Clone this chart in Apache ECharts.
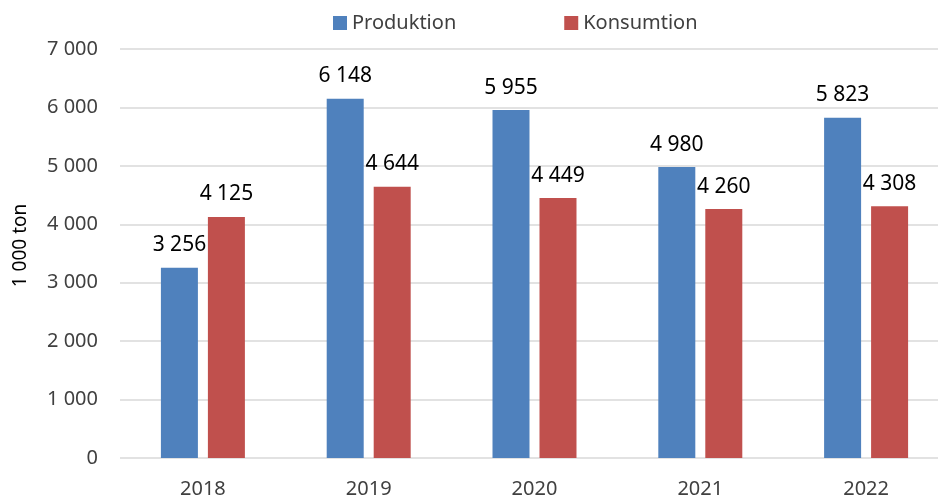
<!DOCTYPE html>
<html>
<head>
<meta charset="utf-8">
<script src="https://cdn.jsdelivr.net/npm/echarts@6/dist/echarts.min.js"></script>
<style>
  html, body { margin: 0; padding: 0; background: #fff; }
  #main { width: 938px; height: 500px; }
</style>
</head>
<body>
<div id="main"></div>
<script>
// data
var years = ['2018', '2019', '2020', '2021', '2022'];
var produktion = [3256, 6148, 5955, 4980, 5823];
var konsumtion = [4125, 4644, 4449, 4260, 4308];

var fmt = function (v) {
    return String(v).replace(/\B(?=(\d{3})+(?!\d))/g, ' ');
};

var FONT = 'Noto Sans';

var myChart = echarts.init(document.getElementById('main'));

var labelOpt = {
    show: true,
    position: 'top',
    distance: 12,
    color: '#000',
    fontFamily: FONT,
    fontSize: 21,
    formatter: function (p) { return fmt(p.value); }
};

var option = {
    animation: false,
    legend: {
        left: 328,
        top: 8,
        itemWidth: 14,
        itemHeight: 14,
        itemGap: 108,
        icon: 'rect',
        textStyle: { fontFamily: FONT, fontSize: 20, color: '#404040' },
        data: ['Produktion', 'Konsumtion']
    },
    // plot area runs a little past the right edge, as in the original
    grid: {
        left: 120,
        width: 829,
        top: 49,
        bottom: 42,
        containLabel: false,
        outerBoundsMode: 'none'
    },
    xAxis: {
        type: 'category',
        data: years,
        axisLine: { show: false },
        axisTick: { show: false },
        axisLabel: {
            color: '#404040',
            fontFamily: FONT,
            fontSize: 20,
            margin: 21
        }
    },
    yAxis: {
        type: 'value',
        min: 0,
        max: 7000,
        interval: 1000,
        name: '1 000 ton',
        nameLocation: 'middle',
        nameGap: 90,
        nameTextStyle: {
            fontFamily: FONT,
            fontSize: 19,
            color: '#000',
            padding: [0, 0, 0, 16]
        },
        axisLabel: {
            color: '#404040',
            fontFamily: FONT,
            fontSize: 20,
            margin: 22,
            formatter: function (v) { return fmt(v); }
        },
        splitLine: { lineStyle: { color: '#d9d9d9', width: 1.5 } }
    },
    series: [
        {
            name: 'Produktion',
            type: 'bar',
            data: produktion,
            barWidth: 37,
            barGap: '27%',
            itemStyle: { color: '#4f81bd' },
            label: labelOpt
        },
        {
            name: 'Konsumtion',
            type: 'bar',
            data: konsumtion,
            barWidth: 37,
            barGap: '27%',
            itemStyle: { color: '#c0504d' },
            label: labelOpt
        }
    ]
};

myChart.setOption(option);
</script>
</body>
</html>
